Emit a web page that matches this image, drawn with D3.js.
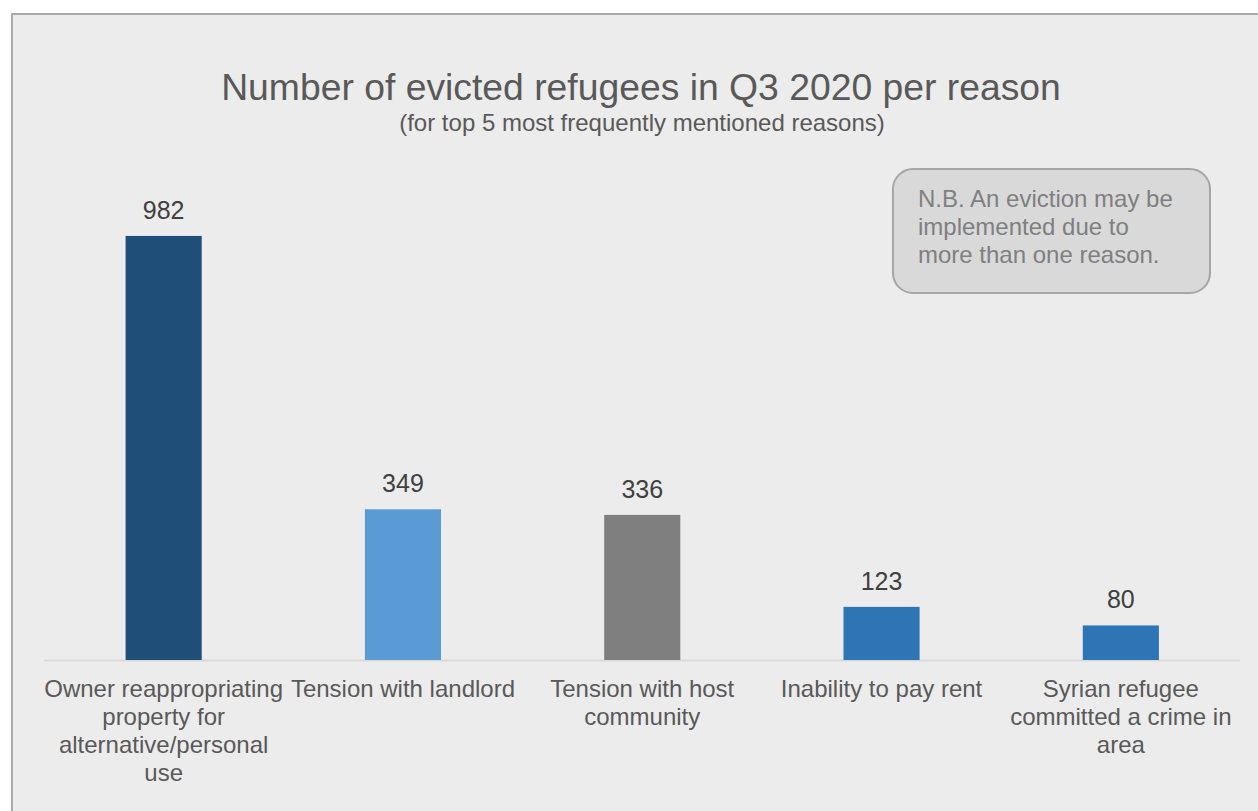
<!DOCTYPE html>
<html>
<head>
<meta charset="utf-8">
<script src="https://cdn.jsdelivr.net/npm/d3@7"></script>
<style>
  html, body { margin: 0; padding: 0; background: #ffffff; }
  svg { display: block; }
  text { font-family: "Liberation Sans", Arial, sans-serif; }
</style>
</head>
<body>
<svg id="chart" width="1258" height="811"></svg>
<script>
const categories = [
  "Owner reappropriating property for alternative/personal use",
  "Tension with landlord",
  "Tension with host community",
  "Inability to pay rent",
  "Syrian refugee committed a crime in area"
];
const values = [982, 349, 336, 123, 80];
const barColors = ["#1f4e79", "#5b9bd5", "#7f7f7f", "#2e75b6", "#2e75b6"];
const titleText = "Number of evicted refugees in Q3 2020 per reason";
const subtitleText = "(for top 5 most frequently mentioned reasons)";
const noteLines = ["N.B. An eviction may be", "implemented due to", "more than one reason."];

const svg = d3.select("#chart");

// chart area background with top/left border
svg.append("rect").attr("x", 12).attr("y", 14).attr("width", 1260).attr("height", 820)
  .attr("fill", "#ececec").attr("stroke", "#ababab").attr("stroke-width", 2);

svg.append("text").attr("x", 641).attr("y", 100).attr("text-anchor", "middle")
  .attr("font-size", 37.3).attr("fill", "#595959").text(titleText);
svg.append("text").attr("x", 642).attr("y", 131).attr("text-anchor", "middle")
  .attr("font-size", 24).attr("fill", "#595959").text(subtitleText);

const x = d3.scaleBand().domain(categories).range([44, 1240.5]).paddingInner(0.682).paddingOuter(0.341);
const y = d3.scaleLinear().domain([0, 1200]).range([660, 141.8]);

// baseline
svg.append("line").attr("x1", 44).attr("x2", 1240).attr("y1", y(0) + 0.5).attr("y2", y(0) + 0.5)
  .attr("stroke", "#d9d9d9").attr("stroke-width", 2);

svg.selectAll("rect.bar").data(categories).enter().append("rect").attr("class", "bar")
  .attr("x", d => x(d)).attr("width", x.bandwidth())
  .attr("y", (d, i) => y(values[i])).attr("height", (d, i) => y(0) - y(values[i]))
  .attr("fill", (d, i) => barColors[i]);

svg.selectAll("text.val").data(categories).enter().append("text").attr("class", "val")
  .attr("x", d => x(d) + x.bandwidth() / 2).attr("y", (d, i) => y(values[i]) - 17)
  .attr("text-anchor", "middle").attr("font-size", 25).attr("fill", "#404040")
  .text((d, i) => values[i]);

// category labels with wrapping
const maxW = 248;
categories.forEach(cat => {
  const cx = x(cat) + x.bandwidth() / 2;
  const t = svg.append("text").attr("x", cx).attr("y", 697).attr("text-anchor", "middle")
    .attr("font-size", 24).attr("fill", "#595959");
  const words = cat.split(" ");
  let line = [];
  let lineNo = 0;
  let tspan = t.append("tspan").attr("x", cx).attr("y", 697);
  words.forEach(w => {
    line.push(w);
    tspan.text(line.join(" "));
    if (tspan.node().getComputedTextLength() > maxW && line.length > 1) {
      line.pop();
      tspan.text(line.join(" "));
      line = [w];
      lineNo++;
      tspan = t.append("tspan").attr("x", cx).attr("y", 697 + lineNo * 28).text(w);
    }
  });
});

// note box
svg.append("rect").attr("x", 893).attr("y", 169).attr("width", 317).attr("height", 124)
  .attr("rx", 20).attr("ry", 20).attr("fill", "#d9d9d9").attr("stroke", "#a6a6a6").attr("stroke-width", 2);
svg.selectAll("text.note").data(noteLines).enter().append("text").attr("class", "note")
  .attr("x", 918).attr("y", (d, i) => 207 + i * 28).attr("font-size", 24).attr("fill", "#7f7f7f")
  .text(d => d);
</script>
</body>
</html>
